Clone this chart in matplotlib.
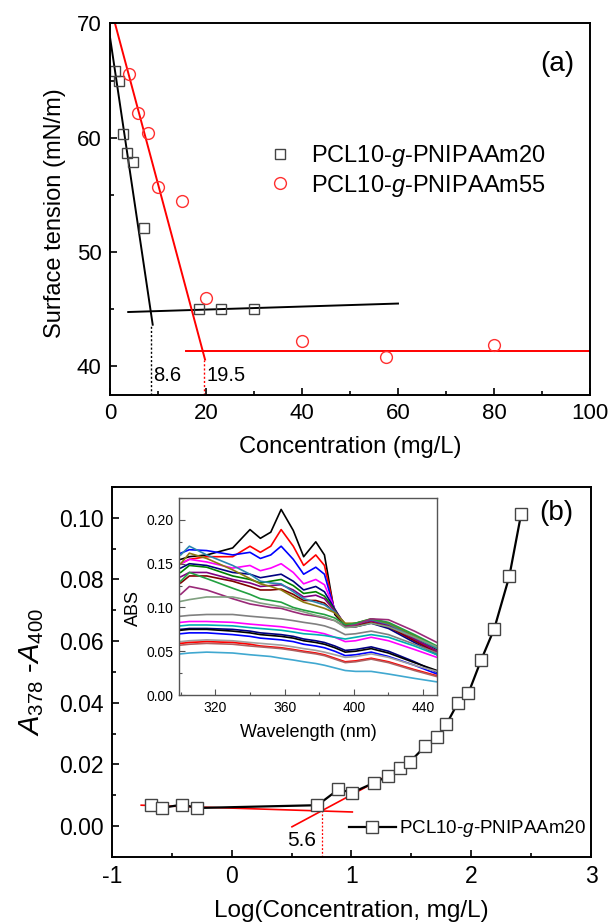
import matplotlib
matplotlib.use('Agg')
import matplotlib.pyplot as plt
from matplotlib.ticker import MultipleLocator, FormatStrFormatter

plt.rcParams['font.family'] = ['Liberation Sans', 'DejaVu Sans']
plt.rcParams['mathtext.fontset'] = 'custom'
plt.rcParams['mathtext.rm'] = 'Liberation Sans'
plt.rcParams['mathtext.it'] = 'Liberation Sans:italic'
plt.rcParams['axes.unicode_minus'] = False

# (a) surface tension vs concentration
conc_20 = [1.0, 1.9, 2.75, 3.6, 4.7, 7.0, 18.5, 23.1, 30.0]
st_20 = [65.8, 64.95, 60.3, 58.7, 57.9, 52.1, 45.0, 45.0, 45.0]
conc_55 = [4.05, 5.9, 7.9, 10.0, 14.9, 20.0, 39.9, 57.6, 80.0]
st_55 = [65.6, 62.2, 60.4, 55.7, 54.5, 46.0, 42.2, 40.85, 41.9]

# fitted lines (end points)
fit20_steep_x = [0.0, 8.9]
fit20_steep_y = [68.8, 43.65]
fit20_flat_x = [3.8, 60.0]
fit20_flat_y = [44.76, 45.5]
fit55_steep_x = [1.04, 19.8]
fit55_steep_y = [70.0, 40.6]
fit55_flat_x = [15.8, 100.0]
fit55_flat_y = [41.38, 41.38]
cmc_20 = 8.6
cmc_55 = 19.5

# (b) A378 - A400 vs log(concentration)
log_c = [-0.672, -0.584, -0.415, -0.288, 0.716, 0.890, 1.007, 1.185, 1.305, 1.409,
         1.487, 1.617, 1.714, 1.792, 1.890, 1.977, 2.084, 2.192, 2.318, 2.416]
a_diff = [0.0070, 0.0059, 0.0070, 0.0059, 0.0068, 0.0119, 0.0109, 0.0140, 0.0162, 0.0190,
          0.0208, 0.0260, 0.0289, 0.0330, 0.0401, 0.0432, 0.0540, 0.0640, 0.0810, 0.1011]
tan1_x = [-0.756, 1.007]
tan1_y = [0.0068, 0.0046]
tan2_x = [0.503, 1.510]
tan2_y = [-0.0002, 0.0208]
cmc_log = 0.75
cmc_cross = 0.0051

# inset: UV spectra
wl = [300, 305, 315, 330, 340, 346, 352, 358, 365, 371, 378, 383, 389, 395, 401, 410, 420, 435, 448]
s_black = [0.155, 0.158, 0.160, 0.168, 0.189, 0.179, 0.186, 0.212, 0.188, 0.158, 0.175, 0.160, 0.092, 0.079, 0.080, 0.085, 0.080, 0.066, 0.052]
s_red = [0.150, 0.155, 0.158, 0.158, 0.170, 0.163, 0.170, 0.189, 0.170, 0.148, 0.160, 0.148, 0.095, 0.078, 0.078, 0.083, 0.078, 0.064, 0.050]
s_blue = [0.162, 0.166, 0.165, 0.160, 0.163, 0.156, 0.160, 0.170, 0.155, 0.138, 0.146, 0.138, 0.096, 0.079, 0.079, 0.084, 0.078, 0.062, 0.048]
s_magenta = [0.150, 0.155, 0.152, 0.145, 0.148, 0.142, 0.145, 0.150, 0.140, 0.127, 0.132, 0.126, 0.098, 0.080, 0.080, 0.084, 0.078, 0.063, 0.049]
s_navy = [0.145, 0.150, 0.148, 0.140, 0.138, 0.134, 0.136, 0.138, 0.130, 0.120, 0.124, 0.118, 0.098, 0.078, 0.078, 0.082, 0.076, 0.060, 0.046]
s_green = [0.140, 0.148, 0.146, 0.136, 0.132, 0.128, 0.130, 0.132, 0.125, 0.116, 0.118, 0.113, 0.097, 0.080, 0.082, 0.086, 0.081, 0.066, 0.054]
s_purple = [0.135, 0.140, 0.140, 0.132, 0.128, 0.124, 0.125, 0.126, 0.120, 0.112, 0.114, 0.110, 0.096, 0.080, 0.080, 0.085, 0.080, 0.064, 0.050]
s_wine = [0.128, 0.136, 0.136, 0.130, 0.124, 0.120, 0.120, 0.121, 0.115, 0.108, 0.108, 0.105, 0.094, 0.079, 0.079, 0.083, 0.078, 0.062, 0.048]
s_teal = [0.160, 0.170, 0.160, 0.148, 0.138, 0.130, 0.128, 0.127, 0.118, 0.110, 0.106, 0.103, 0.095, 0.081, 0.081, 0.086, 0.081, 0.066, 0.053]
s_olive = [0.150, 0.162, 0.156, 0.143, 0.133, 0.127, 0.124, 0.120, 0.112, 0.106, 0.102, 0.099, 0.094, 0.082, 0.082, 0.087, 0.082, 0.068, 0.055]
s_green2 = [0.130, 0.140, 0.133, 0.122, 0.115, 0.110, 0.108, 0.106, 0.100, 0.097, 0.094, 0.092, 0.088, 0.080, 0.082, 0.087, 0.083, 0.069, 0.056]
s_plum = [0.115, 0.124, 0.120, 0.110, 0.104, 0.102, 0.100, 0.099, 0.095, 0.092, 0.090, 0.088, 0.085, 0.078, 0.080, 0.087, 0.086, 0.073, 0.060]
s_sage = [0.107, 0.109, 0.112, 0.112, 0.108, 0.105, 0.103, 0.101, 0.098, 0.095, 0.091, 0.089, 0.085, 0.077, 0.078, 0.082, 0.078, 0.066, 0.055]
s_gray = [0.090, 0.091, 0.092, 0.092, 0.090, 0.089, 0.088, 0.087, 0.085, 0.083, 0.081, 0.079, 0.075, 0.069, 0.070, 0.073, 0.069, 0.058, 0.048]
s_magenta2 = [0.083, 0.084, 0.084, 0.083, 0.081, 0.080, 0.079, 0.078, 0.076, 0.074, 0.072, 0.070, 0.066, 0.061, 0.062, 0.066, 0.062, 0.052, 0.043]
s_cyan = [0.079, 0.080, 0.080, 0.079, 0.077, 0.076, 0.075, 0.074, 0.072, 0.070, 0.069, 0.068, 0.066, 0.064, 0.066, 0.069, 0.066, 0.056, 0.046]
s_navy2 = [0.075, 0.076, 0.076, 0.075, 0.073, 0.071, 0.070, 0.069, 0.067, 0.064, 0.062, 0.060, 0.056, 0.051, 0.052, 0.055, 0.050, 0.038, 0.026]
s_black2 = [0.074, 0.075, 0.075, 0.073, 0.071, 0.069, 0.068, 0.067, 0.065, 0.062, 0.060, 0.058, 0.054, 0.049, 0.050, 0.053, 0.048, 0.037, 0.028]
s_blue2 = [0.070, 0.071, 0.071, 0.069, 0.067, 0.065, 0.064, 0.063, 0.061, 0.058, 0.056, 0.054, 0.050, 0.045, 0.046, 0.049, 0.044, 0.034, 0.024]
s_gray2 = [0.061, 0.062, 0.063, 0.062, 0.060, 0.059, 0.058, 0.057, 0.055, 0.053, 0.051, 0.049, 0.046, 0.043, 0.044, 0.047, 0.043, 0.034, 0.027]
s_red2 = [0.059, 0.060, 0.061, 0.060, 0.058, 0.056, 0.055, 0.054, 0.052, 0.050, 0.048, 0.046, 0.042, 0.038, 0.039, 0.042, 0.038, 0.029, 0.022]
s_rose = [0.057, 0.058, 0.059, 0.058, 0.056, 0.055, 0.054, 0.053, 0.051, 0.049, 0.047, 0.045, 0.041, 0.037, 0.038, 0.041, 0.037, 0.028, 0.021]
s_sky = [0.047, 0.048, 0.049, 0.048, 0.046, 0.045, 0.044, 0.042, 0.040, 0.038, 0.036, 0.034, 0.031, 0.028, 0.027, 0.027, 0.024, 0.019, 0.015]

spectra = [s_black, s_red, s_blue, s_magenta, s_navy, s_green, s_purple, s_wine, s_teal, s_olive,
           s_green2, s_plum, s_sage, s_gray, s_magenta2, s_cyan, s_navy2, s_black2, s_blue2,
           s_gray2, s_red2, s_rose, s_sky]
spec_colors = ['#000000', '#ff0000', '#0000ff', '#ff00ff', '#000080', '#008000', '#800080', '#800000',
               '#2a86b0', '#8c7a10', '#22a040', '#9a2a78', '#80a080', '#808080', '#ff00ff', '#00b0b0',
               '#000080', '#000000', '#0000ff', '#a0a0a0', '#ff0000', '#b06060', '#40a8d0']

lab20 = 'PCL10-$\\mathit{g}$-PNIPAAm20'
lab55 = 'PCL10-$\\mathit{g}$-PNIPAAm55'

fig = plt.figure(figsize=(6.08, 9.23), dpi=100)


def style_axes(ax, size):
    for sp in ax.spines.values():
        sp.set_linewidth(1.4)
    ax.tick_params(which='both', direction='in', labelsize=size, width=1.2)
    ax.tick_params(which='major', length=5, pad=6)
    ax.tick_params(which='minor', length=3)


# ----- panel (a)
ax1 = fig.add_axes([0.1809, 0.5720, 0.7895, 0.4027])
ax1.plot(fit20_steep_x, fit20_steep_y, color='black', lw=1.4)
ax1.plot(fit20_flat_x, fit20_flat_y, color='black', lw=1.4)
ax1.plot(fit55_steep_x, fit55_steep_y, color='red', lw=1.4)
ax1.plot(fit55_flat_x, fit55_flat_y, color='red', lw=1.4)
ax1.plot([cmc_20, cmc_20], [37.5, fit20_steep_y[1]], color='black', lw=1, ls=(0, (1.5, 1.5)))
ax1.plot([cmc_55, cmc_55], [37.5, fit55_steep_y[1]], color='red', lw=1, ls=(0, (1.5, 1.5)))
ax1.plot(conc_20, st_20, ls='none', marker='s', ms=7.5, mfc='none', mec='#444444', mew=1, label=lab20)
ax1.plot(conc_55, st_55, ls='none', marker='o', ms=8.5, mfc='none', mec='#ff3030', mew=1, label=lab55)
ax1.text(9.0, 39.2, '8.6', fontsize=14.5, va='center', ha='left')
ax1.text(20.1, 39.2, '19.5', fontsize=14.5, va='center', ha='left')
ax1.text(0.968, 0.89, '(a)', transform=ax1.transAxes, fontsize=20, ha='right', va='center')
ax1.set_xlim(0, 100)
ax1.set_ylim(37.5, 70)
ax1.xaxis.set_major_locator(MultipleLocator(20))
ax1.xaxis.set_minor_locator(MultipleLocator(10))
ax1.yaxis.set_major_locator(MultipleLocator(10))
ax1.yaxis.set_minor_locator(MultipleLocator(5))
style_axes(ax1, 16)
ax1.set_xlabel('Concentration (mg/L)', fontsize=17)
ax1.set_ylabel('Surface tension (mN/m)', fontsize=17)
ax1.xaxis.set_label_coords(0.5, -0.110)
ax1.yaxis.set_label_coords(-0.092, 0.49)
ax1.legend(loc='center left', bbox_to_anchor=(0.33, 0.603), frameon=False, fontsize=17,
           handlelength=1.0, handletextpad=0.8, labelspacing=0.15, borderpad=0, borderaxespad=0)

# ----- panel (b)
ax2 = fig.add_axes([0.1842, 0.0715, 0.7878, 0.4009])
ax2.plot(tan1_x, tan1_y, color='red', lw=1.2)
ax2.plot(tan2_x, tan2_y, color='red', lw=1.2)
ax2.plot([cmc_log, cmc_log], [-0.01, cmc_cross], color='red', lw=0.9, ls=(0, (1.5, 1.5)))
ax2.plot(log_c, a_diff, color='black', lw=1.6, marker='s', ms=8, mfc='white', mec='#444444', mew=1,
         label=lab20)
ax2.text(0.58, -0.0045, '5.6', fontsize=15, ha='center', va='center')
ax2.text(0.964, 0.93, '(b)', transform=ax2.transAxes, fontsize=20, ha='right', va='center')
ax2.set_xlim(-1, 3)
ax2.set_ylim(-0.01, 0.11)
ax2.xaxis.set_major_locator(MultipleLocator(1))
ax2.xaxis.set_minor_locator(MultipleLocator(0.5))
ax2.yaxis.set_major_locator(MultipleLocator(0.02))
ax2.yaxis.set_minor_locator(MultipleLocator(0.01))
ax2.yaxis.set_major_formatter(FormatStrFormatter('%.2f'))
style_axes(ax2, 16.5)
ax2.set_xlabel('Log(Concentration, mg/L)', fontsize=17.5)
ax2.set_ylabel('$\\mathit{A}_{378}$ -$\\mathit{A}_{400}$', fontsize=21)
ax2.xaxis.set_label_coords(0.5, -0.116)
ax2.yaxis.set_label_coords(-0.138, 0.5)
ax2.legend(loc='center right', bbox_to_anchor=(0.99, 0.076), frameon=False, fontsize=13.5,
           handlelength=2.5, handletextpad=0.2, borderpad=0, borderaxespad=0)

# ----- inset
ax3 = fig.add_axes([0.2944, 0.2470, 0.4243, 0.2134])
for vals, col in zip(spectra, spec_colors):
    ax3.plot(wl, vals, color=col, lw=1.2)
ax3.set_xlim(299, 448)
ax3.set_ylim(0, 0.225)
ax3.xaxis.set_minor_locator(MultipleLocator(20))
ax3.yaxis.set_major_locator(MultipleLocator(0.05))
ax3.yaxis.set_minor_locator(MultipleLocator(0.025))
ax3.yaxis.set_major_formatter(FormatStrFormatter('%.2f'))
ax3.set_xticks([320, 360, 400, 440])
for sp in ax3.spines.values():
    sp.set_linewidth(1.0)
    sp.set_color('#555555')
ax3.tick_params(which='both', direction='in', labelsize=10, width=0.8, color='#555555')
ax3.tick_params(which='major', length=4, pad=4)
ax3.tick_params(which='minor', length=2)
ax3.set_xlabel('Wavelength (nm)', fontsize=13)
ax3.set_ylabel('ABS', fontsize=13)
ax3.xaxis.set_label_coords(0.5, -0.147)
ax3.yaxis.set_label_coords(-0.143, 0.44)

fig.savefig('out.png', dpi=100)
